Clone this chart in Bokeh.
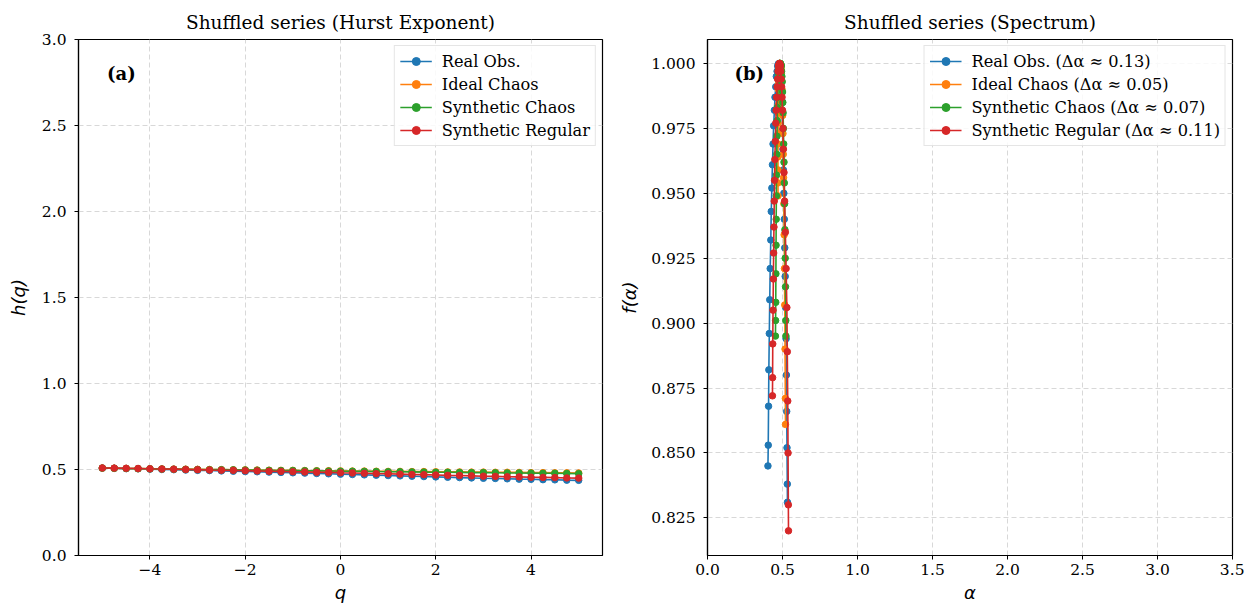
from bokeh.plotting import figure
from bokeh.layouts import row
from bokeh.models import Legend, LegendItem, Label, FixedTicker, Range1d
from bokeh.embed import file_html
from bokeh.resources import INLINE

# ---------------- data ----------------
q = [-5 + 0.25 * i for i in range(41)]

series_names = ["Real Obs.", "Ideal Chaos", "Synthetic Chaos", "Synthetic Regular"]
delta_alpha = ["0.13", "0.05", "0.07", "0.11"]
colors = ["#1f77b4", "#ff7f0e", "#2ca02c", "#d62728"]

h_real = [0.508, 0.507, 0.505, 0.504, 0.502, 0.500, 0.499, 0.497, 0.495, 0.494, 0.492,
          0.490, 0.488, 0.487, 0.485, 0.483, 0.481, 0.479, 0.477, 0.475, 0.473, 0.471,
          0.469, 0.467, 0.465, 0.463, 0.461, 0.459, 0.457, 0.455, 0.453, 0.451, 0.449,
          0.448, 0.446, 0.444, 0.443, 0.441, 0.440, 0.438, 0.437]
h_ideal = [0.508, 0.507, 0.506, 0.505, 0.504, 0.503, 0.502, 0.502, 0.501, 0.500, 0.499,
           0.498, 0.498, 0.497, 0.496, 0.495, 0.495, 0.494, 0.493, 0.493, 0.492, 0.491,
           0.491, 0.490, 0.489, 0.489, 0.488, 0.488, 0.487, 0.486, 0.486, 0.485, 0.485,
           0.484, 0.484, 0.483, 0.482, 0.482, 0.481, 0.481, 0.480]
h_synth_chaos = [0.508, 0.507, 0.506, 0.505, 0.504, 0.503, 0.502, 0.501, 0.500, 0.499, 0.499,
                 0.498, 0.497, 0.496, 0.495, 0.494, 0.494, 0.493, 0.492, 0.491, 0.490, 0.490,
                 0.489, 0.488, 0.487, 0.487, 0.486, 0.485, 0.484, 0.484, 0.483, 0.482, 0.482,
                 0.481, 0.480, 0.480, 0.479, 0.478, 0.478, 0.477, 0.476]
h_synth_reg = [0.509, 0.508, 0.507, 0.506, 0.504, 0.503, 0.502, 0.500, 0.499, 0.497, 0.496,
               0.495, 0.493, 0.492, 0.490, 0.489, 0.487, 0.486, 0.484, 0.483, 0.481, 0.480,
               0.478, 0.476, 0.475, 0.473, 0.471, 0.470, 0.468, 0.466, 0.465, 0.463, 0.461,
               0.460, 0.458, 0.457, 0.455, 0.454, 0.453, 0.451, 0.450]

# singularity spectra, ordered q = -5 ... 5
alpha_real = [0.533, 0.532, 0.530, 0.528, 0.526, 0.524, 0.521, 0.518, 0.515, 0.512,
              0.509, 0.506, 0.503, 0.500, 0.497, 0.494, 0.491, 0.488, 0.485, 0.482,
              0.477,
              0.472, 0.468, 0.464, 0.459, 0.455, 0.450, 0.446, 0.441, 0.437, 0.433,
              0.429, 0.425, 0.422, 0.418, 0.415, 0.412, 0.409, 0.407, 0.405, 0.403]
f_real = [0.831, 0.838, 0.852, 0.866, 0.880, 0.894, 0.906, 0.918, 0.929, 0.940,
          0.950, 0.959, 0.967, 0.974, 0.981, 0.986, 0.991, 0.995, 0.998, 0.9995,
          1.000,
          0.9998, 0.999, 0.997, 0.995, 0.991, 0.987, 0.982, 0.976, 0.969, 0.961,
          0.952, 0.943, 0.932, 0.921, 0.909, 0.896, 0.882, 0.868, 0.853, 0.845]

alpha_ideal = [0.520, 0.519, 0.517, 0.515, 0.513, 0.511, 0.509, 0.507, 0.505, 0.503,
               0.501, 0.499, 0.497, 0.495, 0.493, 0.491, 0.489, 0.487, 0.485, 0.483,
               0.481,
               0.480, 0.479, 0.478, 0.477, 0.476, 0.475, 0.474, 0.474, 0.473, 0.473,
               0.472, 0.472, 0.471, 0.471, 0.471, 0.470, 0.470, 0.470, 0.470, 0.470]
f_ideal = [0.861, 0.871, 0.890, 0.907, 0.921, 0.934, 0.946, 0.956, 0.965, 0.973,
           0.980, 0.985, 0.990, 0.993, 0.996, 0.998, 0.999, 0.9995, 0.9998, 1.000,
           1.000,
           1.000, 0.9998, 0.9995, 0.999, 0.998, 0.997, 0.996, 0.994, 0.992, 0.990,
           0.987, 0.984, 0.981, 0.977, 0.973, 0.969, 0.964, 0.959, 0.954, 0.949]

alpha_synth_chaos = [0.523, 0.522, 0.520, 0.518, 0.516, 0.514, 0.512, 0.510, 0.508, 0.506,
                     0.504, 0.502, 0.500, 0.498, 0.496, 0.494, 0.492, 0.490, 0.488, 0.486,
                     0.484,
                     0.482, 0.480, 0.478, 0.476, 0.474, 0.472, 0.470, 0.468, 0.466, 0.465,
                     0.463, 0.462, 0.460, 0.459, 0.458, 0.457, 0.456, 0.455, 0.454, 0.453]
f_synth_chaos = [0.895, 0.901, 0.914, 0.925, 0.936, 0.946, 0.954, 0.962, 0.969, 0.975,
                 0.981, 0.985, 0.989, 0.993, 0.995, 0.997, 0.999, 0.9995, 0.9998, 1.000,
                 1.000,
                 1.000, 0.9997, 0.999, 0.998, 0.996, 0.994, 0.991, 0.987, 0.983, 0.978,
                 0.972, 0.965, 0.957, 0.949, 0.940, 0.930, 0.919, 0.908, 0.901, 0.895]

alpha_synth_reg = [0.540, 0.539, 0.537, 0.535, 0.532, 0.529, 0.524, 0.519, 0.514, 0.510,
                   0.506, 0.503, 0.500, 0.497, 0.494, 0.491, 0.488, 0.486, 0.484, 0.482,
                   0.480,
                   0.478, 0.476, 0.473, 0.470, 0.467, 0.464, 0.461, 0.458, 0.455, 0.452,
                   0.449, 0.447, 0.445, 0.443, 0.441, 0.439, 0.437, 0.435, 0.434, 0.433]
f_synth_reg = [0.820, 0.830, 0.850, 0.870, 0.889, 0.906, 0.921, 0.935, 0.947, 0.958,
               0.967, 0.975, 0.982, 0.987, 0.991, 0.994, 0.997, 0.999, 0.9995, 0.9999,
               1.000,
               0.9999, 0.9995, 0.999, 0.997, 0.994, 0.991, 0.987, 0.982, 0.977, 0.970,
               0.963, 0.955, 0.947, 0.937, 0.927, 0.917, 0.905, 0.892, 0.879, 0.872]

h_ticks = [-4, -2, 0, 2, 4]
h_yticks = [0.0, 0.5, 1.0, 1.5, 2.0, 2.5, 3.0]
s_xticks = [0.0, 0.5, 1.0, 1.5, 2.0, 2.5, 3.0, 3.5]
s_yticks = [0.825, 0.850, 0.875, 0.900, 0.925, 0.950, 0.975, 1.000]

h_series = [h_real, h_ideal, h_synth_chaos, h_synth_reg]
alpha_series = [alpha_real, alpha_ideal, alpha_synth_chaos, alpha_synth_reg]
f_series = [f_real, f_ideal, f_synth_chaos, f_synth_reg]

SERIF = "DejaVu Serif"


def style(p, xlabel, ylabel, label_standoff_y):
    p.title.text_font = SERIF
    p.title.text_font_size = "18.5px"
    p.title.text_font_style = "normal"
    p.title.text_color = "black"
    p.title.align = "center"
    p.title.standoff = 13
    p.outline_line_color = "black"
    p.outline_line_width = 1.2
    p.outline_line_alpha = 1
    for ax in (p.xaxis[0], p.yaxis[0]):
        ax.axis_line_color = "black"
        ax.axis_line_width = 1.2
        ax.major_tick_line_color = "black"
        ax.major_tick_in = 0
        ax.major_tick_out = 4
        ax.minor_tick_line_color = None
        ax.major_label_text_font = SERIF
        ax.major_label_text_font_size = "15.5px"
        ax.major_label_text_color = "black"
        ax.axis_label_text_font = "DejaVu Sans"
        ax.axis_label_text_font_style = "italic"
        ax.axis_label_text_font_size = "18px"
        ax.axis_label_text_color = "black"
    p.xaxis[0].axis_label = xlabel
    p.yaxis[0].axis_label = ylabel
    p.xaxis[0].axis_label_standoff = 4
    p.yaxis[0].axis_label_standoff = label_standoff_y
    p.xaxis[0].major_label_standoff = 4
    p.yaxis[0].major_label_standoff = 8
    for g in (p.xgrid[0], p.ygrid[0]):
        g.grid_line_color = "#d8d8d8"
        g.grid_line_dash = "5 3"
        g.grid_line_width = 1
    p.background_fill_color = "white"
    p.border_fill_color = "white"


def add_legend(p, renderers, labels):
    items = [LegendItem(label=lab, renderers=r) for lab, r in zip(labels, renderers)]
    leg = Legend(items=items, location="top_right")
    leg.label_text_font = SERIF
    leg.label_text_font_size = "16.2px"
    leg.label_text_color = "black"
    leg.label_height = 20
    leg.glyph_height = 20
    leg.glyph_width = 32
    leg.spacing = 3
    leg.padding = 5
    leg.margin = 6
    leg.label_standoff = 10
    leg.border_line_color = "#cccccc"
    leg.border_line_width = 1
    leg.background_fill_alpha = 0.85
    p.add_layout(leg)


# ---------------- left panel ----------------
p1 = figure(width=616, height=605, output_backend="svg", toolbar_location=None,
            title="Shuffled series (Hurst Exponent)",
            x_range=Range1d(-5.5, 5.5), y_range=Range1d(0.0, 3.0),
            min_border_left=78, min_border_right=14, min_border_top=39, min_border_bottom=49)
style(p1, "q", "h(q)", 10)
p1.xaxis[0].ticker = FixedTicker(ticks=h_ticks)
p1.xaxis[0].major_label_overrides = {t: ("\u2212" + str(abs(t)) if t < 0 else str(t)) for t in h_ticks}
p1.yaxis[0].ticker = FixedTicker(ticks=h_yticks)
p1.yaxis[0].major_label_overrides = {t: f"{t:.1f}" for t in h_yticks}

rs1 = []
for h, c in zip(h_series, colors):
    l = p1.line(q, h, line_color=c, line_width=1.6)
    s = p1.scatter(q, h, size=6.5, fill_color=c, line_color=c)
    rs1.append([l, s])
add_legend(p1, rs1, series_names)
p1.add_layout(Label(x=-4.9, y=2.80, text="(a)", text_font=SERIF, text_font_style="bold",
                    text_font_size="18px", text_color="black",
                    text_baseline="middle", text_align="left"))

# ---------------- right panel ----------------
p2 = figure(width=628, height=605, output_backend="svg", toolbar_location=None,
            title="Shuffled series (Spectrum)",
            x_range=Range1d(0.0, 3.5), y_range=Range1d(0.8105, 1.00923),
            min_border_left=90, min_border_right=12, min_border_top=39, min_border_bottom=49)
style(p2, "\u03b1", "f(\u03b1)", 8)
p2.xaxis[0].ticker = FixedTicker(ticks=s_xticks)
p2.xaxis[0].major_label_overrides = {t: f"{t:.1f}" for t in s_xticks}
p2.yaxis[0].ticker = FixedTicker(ticks=s_yticks)
p2.yaxis[0].major_label_overrides = {t: f"{t:.3f}" for t in s_yticks}

rs2 = []
for a, f, c in zip(alpha_series, f_series, colors):
    l = p2.line(a, f, line_color=c, line_width=1.6)
    s = p2.scatter(a, f, size=6.5, fill_color=c, line_color=c)
    rs2.append([l, s])
labels2 = [f"{n} (\u0394\u03b1 \u2248 {d})" for n, d in zip(series_names, delta_alpha)]
add_legend(p2, rs2, labels2)
p2.add_layout(Label(x=0.18, y=0.9962, text="(b)", text_font=SERIF, text_font_style="bold",
                    text_font_size="18px", text_color="black",
                    text_baseline="middle", text_align="left"))

layout = row(p1, p2)
open("out.html", "w").write(file_html(layout, INLINE))
